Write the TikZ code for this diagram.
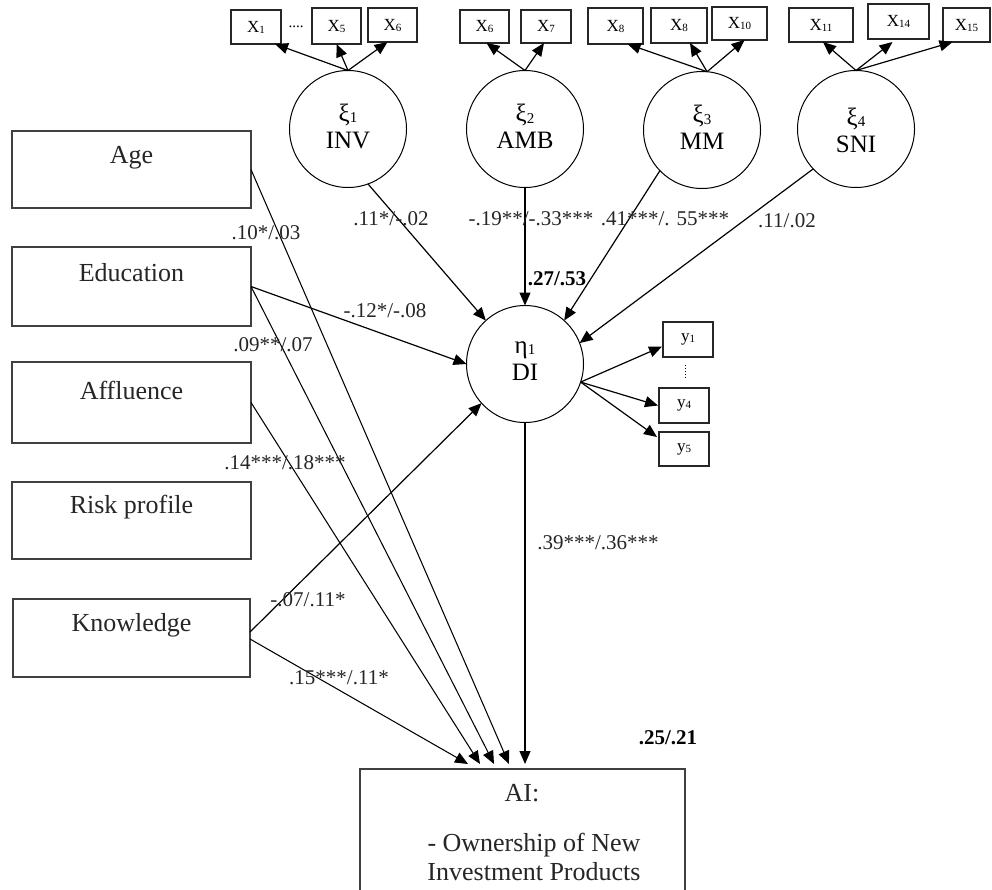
\documentclass[tikz,border=0pt]{standalone}
\usepackage{fontspec}
\setmainfont{Liberation Serif}
\usetikzlibrary{arrows.meta}
\newcommand\mysub[1]{\raisebox{-1.5pt}{\fontsize{15}{15}\selectfont #1}}
\newcommand\smsub[1]{\raisebox{-1pt}{\fontsize{11}{11}\selectfont #1}}
\begin{document}
\begin{tikzpicture}[x=1pt,y=-1pt,
  lbox/.style={draw=black!75, line width=1.3pt, minimum width=239pt, inner sep=0pt, outer sep=0pt},
  sbox/.style={draw=black!85, line width=1.1pt, inner sep=0pt, outer sep=0pt, font=\fontsize{17}{17}\selectfont},
  lat/.style={draw, circle, line width=1pt, minimum size=117pt, inner sep=0pt, outer sep=0pt},
  lattxt/.style={align=center, inner sep=0pt, font=\fontsize{25}{27}\selectfont},
  big/.style={font=\fontsize{26}{28}\selectfont, inner sep=0pt, text=black!85},
  coef/.style={font=\fontsize{21}{22}\selectfont, inner sep=0pt, text=black!85},
  bcoef/.style={font=\fontsize{21}{22}\selectfont\bfseries, inner sep=0pt},
  arr/.style={-{Triangle[length=13pt,width=11pt]}, line width=1.2pt},
  tarr/.style={-{Triangle[length=13pt,width=11pt]}, line width=1.05pt}
]
\useasboundingbox (0,0) rectangle (992,889);
\fill[white] (0,0) rectangle (992,889);

% indicator boxes (top)
\node[sbox, minimum width=50pt, minimum height=34pt] (x1) at (256,27) {X\smsub{1}};
\node[inner sep=0pt, font=\fontsize{15}{15}\selectfont] (dots) at (296,27) {....};
\node[sbox, minimum width=49pt, minimum height=36pt] (x5) at (336.5,26) {X\smsub{5}};
\node[sbox, minimum width=49pt, minimum height=34pt] (x6) at (392.5,25) {X\smsub{6}};
\node[sbox, minimum width=49pt, minimum height=33pt] (x6b) at (484.5,26.5) {X\smsub{6}};
\node[sbox, minimum width=50pt, minimum height=33pt] (x7) at (546,26.5) {X\smsub{7}};
\node[sbox, minimum width=55pt, minimum height=36pt] (x8a) at (615.5,26) {X\smsub{8}};
\node[sbox, minimum width=56pt, minimum height=35pt] (x8b) at (679,25.5) {X\smsub{8}};
\node[sbox, minimum width=55pt, minimum height=33pt] (x10) at (739.5,23.5) {X\smsub{10}};
\node[sbox, minimum width=64pt, minimum height=34pt] (x11) at (821,25) {X\smsub{11}};
\node[sbox, minimum width=61pt, minimum height=35pt] (x14) at (898.5,21.5) {X\smsub{14}};
\node[sbox, minimum width=47pt, minimum height=34pt] (x15) at (966.5,25) {X\smsub{15}};

% latent exogenous
\node[lat] (k1) at (348,129) {};
\node[lattxt] (k1t) at (348,126) {ξ\mysub{1}\\INV};
\node[lat] (k2) at (525,129) {};
\node[lattxt] (k2t) at (525,126.5) {ξ\mysub{2}\\AMB};
\node[lat] (k3) at (702,130) {};
\node[lattxt] (k3t) at (702,127.5) {ξ\mysub{3}\\MM};
\node[lat] (k4) at (856,129) {};
\node[lattxt] (k4t) at (856,130) {ξ\mysub{4}\\SNI};

% latent endogenous
\node[lat] (di) at (525,364) {};
\node[lattxt] (dit) at (525,361) {η\mysub{1}\\DI};

% y indicators
\node[sbox, minimum width=50pt, minimum height=35pt] (y1) at (688,339.5) {y\smsub{1}};
\node[sbox, minimum width=50pt, minimum height=35pt] (y4) at (684,405.5) {y\smsub{4}};
\node[sbox, minimum width=50pt, minimum height=34pt] (y5) at (684,449) {y\smsub{5}};
\draw[dotted, line width=0.9pt] ([yshift=-8pt]y1.south) ++(-3pt,0) coordinate (vd1) -- ++(0,-14pt) coordinate (vd2);

% left observed boxes
\node[lbox, minimum height=77pt] (age) at (131.5,169.5) {};
\node[big] (aget) at (131.5,158) {Age};
\node[lbox, minimum height=79pt] (edu) at (131.5,286.5) {};
\node[big] (edut) at (131.5,273) {Education};
\node[lbox, minimum height=81pt] (aff) at (131.5,402.5) {};
\node[big] (afft) at (131.5,390) {Affluence};
\node[lbox, minimum height=77pt] (risk) at (131.5,520.5) {};
\node[big] (riskt) at (131.5,507) {Risk profile};
\node[lbox, minimum height=78pt, minimum width=237pt] (know) at (131.5,638) {};
\node[big] (knowt) at (131.5,625) {Knowledge};

% outcome box
\node[draw=black!75, line width=1.3pt, minimum width=325pt, minimum height=140pt, inner sep=0pt, outer sep=0pt] (ai) at (522.5,839) {};
\node[big] (ait) at (522,793) {AI:};
\node[big, align=center, font=\fontsize{26}{29}\selectfont] (aitext) at (534,857) {- Ownership of New\\Investment Products};

% measurement arrows
\draw[arr] (k1.north) -- ([xshift=19pt]x1.south);
\draw[arr] (k1.north) -- (x5.south);
\draw[arr] (k1.north) -- ([xshift=-5pt]x6.south);
\draw[arr] (k2.north) -- ([xshift=2pt]x6b.south);
\draw[arr] (k2.north) -- ([xshift=-2pt]x7.south);
\draw[arr] (k3.85) -- ([xshift=12pt]x8a.south);
\draw[arr] (k3.85) -- ([xshift=11pt]x8b.south);
\draw[arr] (k3.85) -- ([xshift=5pt]x10.south);
\draw[arr] (k4.north) -- ([xshift=2pt]x11.south);
\draw[arr] (k4.north) -- ([xshift=-6pt,yshift=-3pt]x14.south);
\draw[arr] (k4.north) -- ([xshift=-14pt]x15.south);

\draw[arr] (di.-18) -- ([xshift=-1pt,yshift=-7pt]y1.west);
\draw[arr] (di.-18) -- ([xshift=-1pt]y4.west);
\draw[arr] (di.-18) -- ([xshift=-2pt,yshift=12pt]y5.west);

% structural arrows to DI
\draw[arr] (k1.-70) -- (di.132);
\draw[arr] (k2.south) -- (di.north);
\draw[arr] (k3.224) -- (di.48);
\draw[arr] (k4.223) -- (di.21);
\draw[arr] (edu.east) -- (di.180);
\draw[arr] ([yshift=6pt]know.east) -- (di.222);

% arrows to AI
\draw[tarr] ([yshift=-1pt]know.east) -- ([xshift=108pt,yshift=5pt]ai.north west);
\draw[tarr] (aff.east) -- ([xshift=120pt,yshift=5pt]ai.north west);
\draw[tarr] (edu.east) -- ([xshift=134pt,yshift=5pt]ai.north west);
\draw[tarr] (age.east) -- ([xshift=149pt,yshift=5pt]ai.north west);
\draw[arr, shorten >=5pt] (di.south) -- (di.south |- ai.north);

% coefficients
\node[coef] (c1) at (266,233) {.10*/.03};
\node[coef] (c2) at (391,219) {.11*/-.02};
\node[coef] (c3) at (531,219) {-.19**/-.33***};
\node[coef] (c4) at (665,219) {.41***/. 55***};
\node[coef] (c5) at (787,221) {.11/.02};
\node[bcoef] (c6) at (557,279) {.27/.53};
\node[coef] (c7) at (385,311) {-.12*/-.08};
\node[coef] (c8) at (273,345) {.09**/.07};
\node[coef] (c9) at (285,463) {.14***/.18***};
\node[coef] (c10) at (598,543) {.39***/.36***};
\node[coef] (c11) at (308,600) {-.07/.11*};
\node[coef] (c12) at (339,678) {.15***/.11*};
\node[bcoef] (c13) at (668,738) {.25/.21};
\end{tikzpicture}
\end{document}
